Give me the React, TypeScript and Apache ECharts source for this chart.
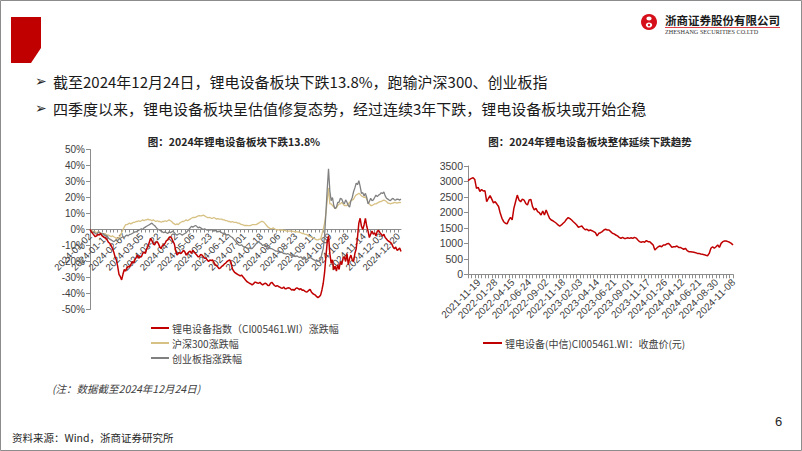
import React, { useEffect, useRef } from 'react';
import * as echarts from 'echarts';

// ---------- calendars (exchange holidays) ----------
const HOLIDAYS: string[] = [
  '2022-01-03', '2022-01-31', '2022-02-01', '2022-02-02', '2022-02-03', '2022-02-04',
  '2022-04-04', '2022-04-05', '2022-05-02', '2022-05-03', '2022-05-04', '2022-06-03',
  '2022-09-12', '2022-10-03', '2022-10-04', '2022-10-05', '2022-10-06', '2022-10-07',
  '2023-01-02', '2023-01-23', '2023-01-24', '2023-01-25', '2023-01-26', '2023-01-27',
  '2023-04-05', '2023-05-01', '2023-05-02', '2023-05-03', '2023-06-22', '2023-06-23',
  '2023-09-29', '2023-10-02', '2023-10-03', '2023-10-04', '2023-10-05', '2023-10-06',
  '2024-01-01', '2024-02-09', '2024-02-12', '2024-02-13', '2024-02-14', '2024-02-15',
  '2024-02-16', '2024-04-04', '2024-04-05', '2024-05-01', '2024-05-02', '2024-05-03',
  '2024-06-10', '2024-09-16', '2024-09-17', '2024-10-01', '2024-10-02', '2024-10-03',
  '2024-10-04', '2024-10-07',
];
const fmt = (d: Date) => d.toISOString().slice(0, 10);
const isTrading = (d: Date) => {
  const w = d.getUTCDay();
  return w !== 0 && w !== 6 && HOLIDAYS.indexOf(fmt(d)) < 0;
};
function dailyDates(start: string, end: string): string[] {
  const out: string[] = [];
  const d = new Date(start + 'T00:00:00Z');
  const e = new Date(end + 'T00:00:00Z');
  while (d <= e) {
    if (isTrading(d)) out.push(fmt(d));
    d.setUTCDate(d.getUTCDate() + 1);
  }
  return out;
}
function weeklyDates(firstFriday: string, lastFriday: string): string[] {
  const out: string[] = [];
  const f = new Date(firstFriday + 'T00:00:00Z');
  const e = new Date(lastFriday + 'T00:00:00Z');
  while (f <= e) {
    for (let k = 0; k < 5; k++) {
      const d = new Date(f.getTime() - k * 86400000);
      if (isTrading(d)) { out.push(fmt(d)); break; }
    }
    f.setUTCDate(f.getUTCDate() + 7);
  }
  return out;
}

// ---------- left chart data (2024 YTD change, %) ----------
const leftDates: string[] = dailyDates('2024-01-02', '2024-12-24');
const leftTitle = '图：2024年锂电设备板块下跌13.8%';
const seriesNames = ['锂电设备指数（CI005461.WI）涨跌幅', '沪深300涨跌幅', '创业板指涨跌幅'];
const lithiumChg: number[] = [
  0, -1.5, -2.4, -3.5, -4.5, -4, -3, -3.5, -2.5, -3.8,
  -4.5, -5, -5.5, -6.5, -8, -8.6, -10, -11.8, -14, -17,
  -19, -23, -28, -29.5, -31.5, -28, -25, -26, -24, -23,
  -23.5, -22, -20, -21, -19, -17.5, -16, -18, -17, -17,
  -15, -14, -15, -12, -10.7, -8, -5.5, -7, -9, -9.7,
  -8, -7.6, -9, -11, -11.8, -10, -9.7, -8.5, -7, -6.5,
  -5, -4.5, -5.5, -7.6, -9, -13, -16, -15, -14.5, -15,
  -14, -13, -14, -16, -15, -14, -13.5, -15, -13, -14,
  -15, -16, -17, -17, -15.5, -16, -17, -18, -18, -19,
  -20, -19, -19.5, -19, -20.5, -22, -22.5, -23.5, -24.5, -24,
  -23, -22.5, -21.5, -21, -20, -19.5, -19, -20.5, -24.5, -26,
  -27, -27.5, -28, -28.5, -29, -28.5, -29.5, -30.5, -31.5, -32.5,
  -33, -33.6, -34, -34.6, -34, -33, -33, -33.5, -33.6, -33,
  -34, -34.6, -34, -33.6, -34, -35, -35, -33.5, -33, -34,
  -35, -35.6, -35, -35.6, -36, -36.5, -36.7, -36, -37, -37,
  -36.5, -36.4, -37, -37.8, -37.5, -38, -37, -36.5, -37, -37.5,
  -37, -38, -37.8, -38.5, -39, -38.9, -38, -37.4, -39, -40,
  -40.5, -41, -42, -42.5, -42, -41, -37.8, -33.6, -27, -17,
  -8, -4, -15, -21, -19, -25, -23, -26, -22, -25,
  -20, -22, -18, -17, -20, -15, -22, -18, -16, -19,
  -20, -15, -12, -5, 4, 7, 2, 0, 3, 7,
  2, -1, -5, -3, -1, -3, -2, -4, -1, -0.5,
  -2, -3, -4, -3, -5, -6, -7, -7.5, -8, -9,
  -11, -12, -11, -13, -12.5, -11.5, -13.8,
];
const hs300Chg: number[] = [
  0, -0.5, -1, -1.5, -1.5, -2, -1.5, -2, -2, -2.5,
  -3, -2.5, -3, -3.4, -3.5, -4, -4.5, -4, -4.5, -5,
  -5.5, -5.6, -5, -4, -2, 0, 1.5, 3, 3, 3.5,
  4, 3.5, 4, 4.5, 4.5, 5, 5, 5.5, 5, 5.5,
  6, 5.5, 6, 6, 6.5, 6, 6, 5.5, 6, 5.5,
  5, 5.5, 5, 5, 4.5, 5, 5, 5.5, 5, 5.5,
  6, 5.5, 5, 4, 3.5, 3, 3.5, 3, 4, 4.5,
  5, 5, 5.5, 6, 5.5, 6, 6.5, 7, 7.5, 7.5,
  7.6, 8, 8.5, 8.6, 8.5, 8.6, 9, 8.5, 8, 7.5,
  7.4, 7.5, 7, 7, 7.5, 7, 6.5, 6.8, 6.5, 6.5,
  6.5, 6, 6, 5.5, 5.5, 5, 5, 4.5, 5, 4.5,
  4.5, 4.5, 4, 4, 3.5, 3, 3, 2.5, 2.5, 2.5,
  2.4, 2.4, 2.5, 3, 3, 3, 3, 3.5, 4, 4.5,
  5, 5, 4.5, 3.5, 2.5, 1.5, 1, 0.5, 0.5, 1,
  0.5, 0, -0.5, 0, -0.5, -0.3, -0.3, -0.5, -0.5, -1,
  -1, -1, -0.8, -1, -1.2, -1.4, -1.4, -1.5, -1.5, -1.8,
  -2, -2.5, -2.5, -3, -3, -3.5, -4, -4.5, -4.8, -5,
  -5.5, -6, -6.5, -6.5, -6, -6, -3, 0, 4, 10,
  18, 26, 16, 16, 15, 14, 13, 13.5, 15, 16,
  16, 17, 16, 15, 15, 15, 16, 17, 18, 18.4,
  19, 20.5, 21.6, 22, 22.6, 22, 21, 20.5, 20, 20.5,
  19, 17, 16, 15, 15, 15.5, 16, 16, 16.5, 17,
  17.4, 17.5, 18, 18.4, 18, 17.5, 16.5, 16.4, 16, 16.4,
  16.5, 17, 16.8, 16.5, 16.8, 17, 16.8,
];
const chinextChg: number[] = [
  0, -1, -2, -1.5, -2.5, -3, -2, -1.5, -2.5, -3,
  -2.5, -3.5, -4, -5, -5.5, -6, -6.5, -7, -7.6, -7,
  -6.5, -7, -6, -5.5, -5, -4.5, -5, -4, -3.5, -4,
  -3, -3, -2.5, -2, -1.5, -1.5, -1, -0.5, 0, 0.5,
  0, 1, 1.5, 2, 2.5, 3, 3.5, 4, 3, 2.5,
  1.5, 0.5, 0, -0.5, -1, -1.5, -2, -1.5, -2, -2.5,
  -1.5, -2, -1.5, -1, -2, -3, -3.5, -3, -2.5, -3,
  -3.5, -3, -2.5, -2, -1, 0, 1, 2, 1.5, 2,
  2.5, 2, 1, 1.5, 1, 0.5, 0, 0.5, 0, -0.5,
  0, -0.5, 0, -0.5, -1, -0.5, -1, -1.5, -1, -1.5,
  -2, -2.5, -2, -3, -3.5, -3, -4, -4.5, -5, -6,
  -7, -8, -9, -9.7, -10, -9.5, -10.5, -11, -10.7, -11.5,
  -12, -11.5, -12, -12, -11, -10, -9, -8, -7.6, -8.5,
  -9, -10, -9.5, -9.7, -10.5, -11, -11.5, -12, -12, -12.5,
  -13, -13.5, -13.5, -14, -14.5, -14, -14.5, -15, -15, -15.5,
  -15, -15.5, -16, -16, -16.5, -16, -17, -16.5, -17, -17.5,
  -17, -18, -18.5, -18, -19, -18.5, -18, -17.5, -18, -18.5,
  -19, -19.5, -19, -20, -19.5, -19, -15, -12, -4, 10,
  25, 38, 24, 18, 20, 15, 13, 14, 17, 17,
  19.5, 19, 17, 16, 18.5, 17, 15, 14, 18, 20,
  23.6, 26, 29, 28, 30.5, 27, 22.6, 23, 21, 22.6,
  20, 16, 17.5, 19.5, 18, 18.5, 20, 21.5, 20.5, 21.5,
  22, 23, 22.5, 23.5, 21, 19.5, 19, 18.4, 18, 19,
  19.5, 18.5, 18.4, 19, 18.8, 18.4, 19,
];
const leftYTicks = [-50, -40, -30, -20, -10, 0, 10, 20, 30, 40, 50];

// ---------- right chart data (weekly close) ----------
const rightDates: string[] = weeklyDates('2021-11-19', '2024-12-20');
const rightTitle = '图：2024年锂电设备板块整体延续下跌趋势';
const rightSeriesName = '锂电设备(中信)CI005461.WI：收盘价(元)';
const lithiumClose: number[] = [
  3025, 3070, 3100, 3120, 3060, 2780, 2810, 2680, 2740, 2690,
  2700, 2350, 2450, 2540, 2430, 2310, 2345, 2270, 2190, 1970,
  1810, 1700, 1650, 1630, 1750, 1840, 1760, 2130, 2345, 2560,
  2400, 2345, 2430, 2400, 2290, 2240, 2400, 2420, 2185, 2080,
  2130, 2025, 1990, 1916, 2045, 1916, 2080, 1940, 1810, 1755,
  1730, 1690, 1650, 1595, 1560, 1595, 1650, 1700, 1780, 1830,
  1800, 1755, 1700, 1650, 1595, 1520, 1540, 1560, 1490, 1440,
  1455, 1410, 1430, 1410, 1380, 1345, 1240, 1325, 1345, 1380,
  1430, 1455, 1430, 1430, 1380, 1325, 1305, 1270, 1240, 1195,
  1160, 1195, 1160, 1160, 1180, 1160, 1180, 1160, 1195, 1170,
  1110, 1055, 1035, 1055, 1035, 1090, 1055, 1055, 1000, 945,
  785, 840, 890, 915, 890, 945, 945, 980, 1000, 945,
  870, 890, 890, 915, 870, 870, 840, 810, 840, 765,
  730, 730, 720, 710, 700, 675, 675, 655, 645, 635,
  615, 600, 675, 840, 890, 840, 890, 945, 870, 1000,
  1055, 1075, 1075, 1055, 1035, 1000, 945,
];

// ---------- slide texts ----------
const bullets = [
  '截至2024年12月24日，锂电设备板块下跌13.8%，跑输沪深300、创业板指',
  '四季度以来，锂电设备板块呈估值修复态势，经过连续3年下跌，锂电设备板块或开始企稳',
];
const noteText = '(注：数据截至2024年12月24日)';
const sourceText = '资料来源：Wind，浙商证券研究所';
const companyCn = '浙商证券股份有限公司';
const companyEn = 'ZHESHANG SECURITIES CO.LTD';
const pageNo = '6';

const RED = '#C00000';
const GOLD = '#D7C184';
const GRAY = '#808080';
const AXIS = '#8C8C8C';
const TXT = '#404040';
const SANS = '"Liberation Sans", Arial, "Noto Sans CJK SC", sans-serif';
const CJK = '"Noto Sans CJK SC", "Liberation Sans", sans-serif';

function buildOption(): any {
  const axisLabelBase = { color: TXT, fontSize: 9.5, fontFamily: SANS };
  return {
    animation: false,
    backgroundColor: '#fff',
    title: [
      { text: leftTitle, left: 229, top: 131, textAlign: 'center',
        textStyle: { fontSize: 10.5, fontWeight: 'bold', color: '#262626', fontFamily: CJK } },
      { text: rightTitle, left: 585, top: 131, textAlign: 'center',
        textStyle: { fontSize: 10.5, fontWeight: 'bold', color: '#262626', fontFamily: CJK } },
    ],
    legend: [
      { orient: 'vertical', left: 146, top: 318, itemWidth: 18, itemHeight: 2, itemGap: 5,
        icon: 'rect', data: seriesNames,
        textStyle: { fontSize: 10, color: TXT, fontFamily: CJK, padding: [0, 0, 0, -2] } },
      { orient: 'horizontal', left: 478, top: 333, itemWidth: 19, itemHeight: 2,
        icon: 'rect', data: [rightSeriesName],
        textStyle: { fontSize: 10, color: TXT, fontFamily: CJK, padding: [0, 0, 0, -2] } },
    ],
    grid: [
      { left: 90, top: 149.5, width: 311, height: 160, outerBoundsMode: 'none', containLabel: false },
      { left: 468, top: 166, width: 265, height: 108.3, outerBoundsMode: 'none', containLabel: false },
    ],
    xAxis: [
      {
        type: 'category', gridIndex: 0, data: leftDates, boundaryGap: false,
        position: 'bottom', offset: -80,
        axisLine: { show: true, onZero: false, lineStyle: { color: AXIS, width: 1 } },
        axisTick: { show: true, length: 3, interval: 2, lineStyle: { color: AXIS } },
        axisLabel: { ...axisLabelBase, rotate: 45, margin: 5,
          interval: (i: number) => i % 13 === 0 },
        splitLine: { show: false },
      },
      {
        type: 'category', gridIndex: 1, data: rightDates, boundaryGap: false,
        axisLine: { show: true, onZero: false, lineStyle: { color: AXIS, width: 1 } },
        axisTick: { show: true, length: 4, interval: 1, lineStyle: { color: AXIS } },
        axisLabel: { ...axisLabelBase, fontSize: 10, rotate: 45, margin: 17,
          padding: [0, -15, 0, 0],
          interval: (i: number) => i % 10 === 0 },
        splitLine: { show: false },
      },
    ],
    yAxis: [
      {
        type: 'value', gridIndex: 0, min: leftYTicks[0], max: leftYTicks[leftYTicks.length - 1], interval: 10,
        axisLine: { show: true, lineStyle: { color: AXIS } },
        axisTick: { show: true, length: 4, lineStyle: { color: AXIS } },
        axisLabel: { ...axisLabelBase, fontSize: 10, margin: 5, formatter: (v: number) => v + '%' },
        splitLine: { show: false },
      },
      {
        type: 'value', gridIndex: 1, min: 0, max: 3500, interval: 500,
        axisLine: { show: true, lineStyle: { color: AXIS } },
        axisTick: { show: true, length: 4, lineStyle: { color: AXIS } },
        axisLabel: { ...axisLabelBase, fontSize: 10.5, margin: 5, formatter: (v: number) => String(v) },
        splitLine: { show: false },
      },
    ],
    series: [
      { name: seriesNames[1], type: 'line', xAxisIndex: 0, yAxisIndex: 0, data: hs300Chg,
        symbol: 'none', lineStyle: { color: GOLD, width: 1.3 }, itemStyle: { color: GOLD }, z: 2 },
      { name: seriesNames[2], type: 'line', xAxisIndex: 0, yAxisIndex: 0, data: chinextChg,
        symbol: 'none', lineStyle: { color: GRAY, width: 1.3 }, itemStyle: { color: GRAY }, z: 3 },
      { name: seriesNames[0], type: 'line', xAxisIndex: 0, yAxisIndex: 0, data: lithiumChg,
        symbol: 'none', lineStyle: { color: RED, width: 1.5 }, itemStyle: { color: RED }, z: 4 },
      { name: rightSeriesName, type: 'line', xAxisIndex: 1, yAxisIndex: 1, data: lithiumClose,
        symbol: 'none', lineStyle: { color: RED, width: 1.5 }, itemStyle: { color: RED } },
    ],
    graphic: [
      { type: 'rect', shape: { x: 0.5, y: 0.5, width: 801, height: 450 },
        style: { fill: 'none', stroke: '#8C8C8C', lineWidth: 1 }, silent: true },
      { type: 'polygon', shape: { points: [[11, 17], [41, 17], [41, 48], [31, 63], [11, 63]] },
        style: { fill: RED } },
      // logo
      { type: 'circle', shape: { cx: 649, cy: 22, r: 8 }, style: { fill: '#D6101A' } },
      { type: 'ellipse', shape: { cx: 649, cy: 18.5, rx: 2.6, ry: 2 }, style: { fill: '#fff' } },
      { type: 'ellipse', shape: { cx: 649, cy: 25, rx: 3.2, ry: 2.6 }, style: { fill: '#fff' } },
      { type: 'circle', shape: { cx: 649, cy: 25, r: 1.2 }, style: { fill: '#D6101A' } },
      { type: 'text', x: 665, y: 20, style: { text: companyCn, fontSize: 11.5, fontWeight: 'bold',
        fontFamily: CJK, fill: '#1a1a1a', verticalAlign: 'middle' } },
      { type: 'line', shape: { x1: 665, y1: 27.5, x2: 780, y2: 27.5 }, style: { stroke: '#D6101A', lineWidth: 0.8 } },
      { type: 'text', x: 665, y: 31.5, style: { text: companyEn, fontSize: 6.2,
        fontFamily: '"Liberation Serif", serif', fill: '#333', verticalAlign: 'middle' } },
      // bullets
      { type: 'text', x: 35, y: 81, style: { text: '➢', fontSize: 14, fontFamily: '"DejaVu Sans", sans-serif',
        fill: '#262626', verticalAlign: 'middle' } },
      { type: 'text', x: 53, y: 81, style: { text: bullets[0], fontSize: 15, fontFamily: CJK,
        fill: '#1a1a1a', verticalAlign: 'middle' } },
      { type: 'text', x: 35, y: 108, style: { text: '➢', fontSize: 14, fontFamily: '"DejaVu Sans", sans-serif',
        fill: '#262626', verticalAlign: 'middle' } },
      { type: 'text', x: 53, y: 108, style: { text: bullets[1], fontSize: 15, fontFamily: CJK,
        fill: '#1a1a1a', verticalAlign: 'middle' } },
      // notes
      { type: 'text', x: 52, y: 388, style: { text: noteText, fontSize: 10.5, fontStyle: 'italic',
        fontFamily: CJK, fill: TXT, verticalAlign: 'middle' } },
      { type: 'text', x: 12, y: 437, style: { text: sourceText, fontSize: 10.5,
        fontFamily: CJK, fill: '#262626', verticalAlign: 'middle' } },
      { type: 'text', x: 775, y: 421, style: { text: pageNo, fontSize: 13,
        fontFamily: SANS, fill: '#262626', verticalAlign: 'middle' } },
    ],
  };
}

export default function App() {
  const ref = useRef<HTMLDivElement>(null);
  useEffect(() => {
    if (!ref.current) return;
    const chart = echarts.init(ref.current, null, { renderer: 'svg' });
    chart.setOption(buildOption());
    return () => chart.dispose();
  }, []);
  return (
    <div
      ref={ref}
      style={{ position: 'fixed', left: 0, top: 0, width: 802, height: 451, background: '#fff' }}
    />
  );
}
